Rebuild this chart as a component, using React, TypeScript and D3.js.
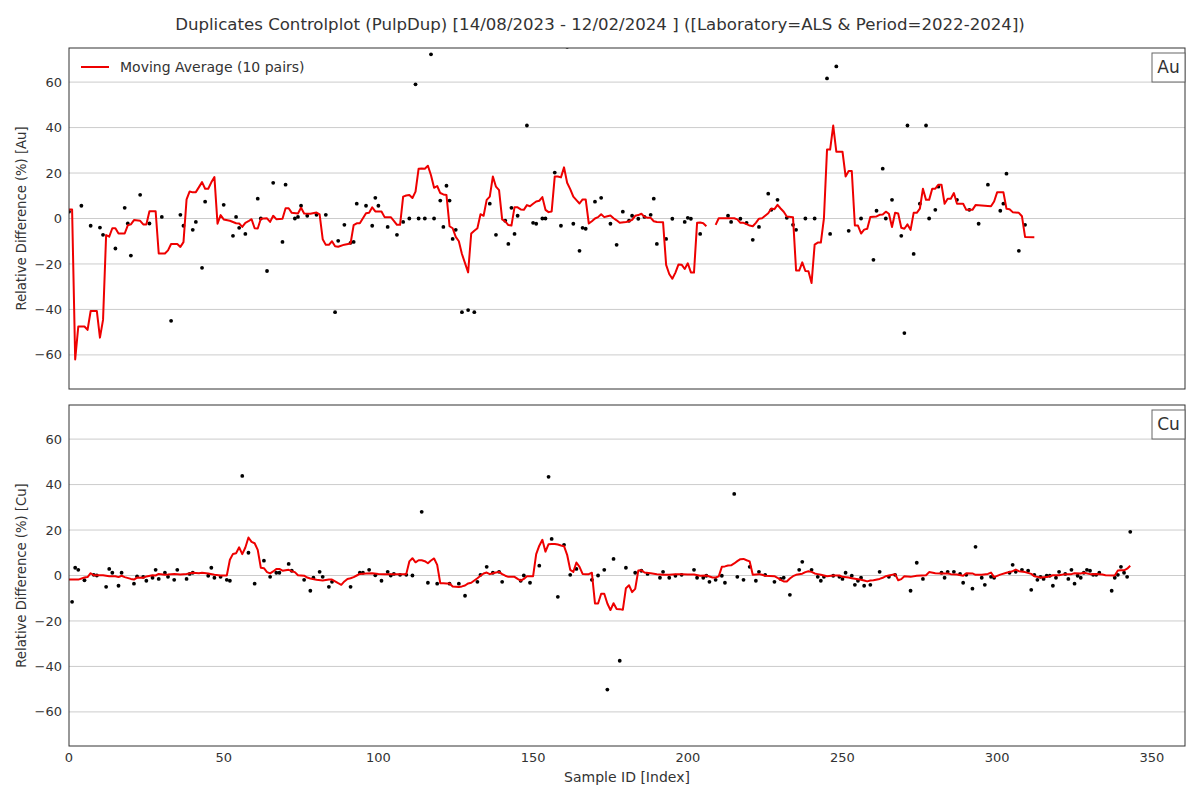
import React from 'react';
import * as d3 from 'd3';

type Pt = [number, number | null];

const TITLE = 'Duplicates Controlplot (PulpDup) [14/08/2023 - 12/02/2024 ] ([Laboratory=ALS & Period=2022-2024])';
const LEGEND_LABEL = 'Moving Average (10 pairs)';
const X_LABEL = 'Sample ID [Index]';
const X_TICKS = [0, 50, 100, 150, 200, 250, 300, 350];
const Y_TICKS = [-60, -40, -20, 0, 20, 40, 60];

// Au: relative difference per sample index
const auPoints: Pt[] = [
  [0, 3], [4, 5.6], [7, -3.2], [10, -4], [11, -7.2], [15, -13.2], [18, 4.7], [19, -2.2], [20, -16.3], [23, 10.4],
  [26, -2.2], [30, 0.7], [33, -45], [36, 1.6], [37, -3.2], [40, -5], [41, -1.5], [43, -21.7], [44, 7.4], [50, 6],
  [53, -7.6], [54, 0.7], [55, -4.1], [57, -6.8], [61, 8.7], [62, 0], [64, -23.1], [66, 15.7], [69, -10.3], [70, 14.9],
  [73, 0], [74, 0.7], [75, 5.6], [77, 1.2], [80, 1.6], [83, 1.6], [86, -41.2], [87, -9.8], [89, -2.8], [91, -10.7],
  [92, -10.3], [93, 6.5], [96, 5.6], [98, -3.2], [99, 9.1], [100, 5.6], [103, -3.7], [106, -7.2], [108, -1.5], [110, 0],
  [112, 59], [113, 0], [115, 0], [117, 72.2], [118, 0], [120, 7.9], [121, -3.7], [122, 14.4], [123, 7.9], [124, -9],
  [125, -5], [127, -41.2], [129, -40.3], [131, -41.2], [136, 6.5], [138, -7.2], [141, -1], [142, -11.2], [143, 4.7], [144, -6.8],
  [145, 1.2], [148, 40.9], [150, -1.9], [151, -2.3], [153, 0], [154, 0], [157, 20.2], [159, -3.2], [161, 75.5], [163, -2.3],
  [165, -14.2], [166, -4.1], [167, -4.5], [170, 7.4], [172, 9.1], [175, -2.3], [177, -11.6], [179, 3], [181, -1], [182, 1.2],
  [184, -0.1], [186, 0.7], [188, 1.6], [189, 8.7], [190, -11.2], [193, -9], [195, -0.1], [199, -1.5], [200, 0.3], [201, -0.1],
  [204, -6.8], [213, 1.2], [214, -1.5], [217, -0.1], [219, -1.9], [221, -9.4], [223, -3.7], [226, 10.9], [227, 3.8], [229, 8.2],
  [232, 0.3], [234, -2.8], [235, -5], [238, 0], [241, 0], [245, 61.6], [246, -6.8], [248, 66.9], [252, -5.4], [256, 0],
  [260, -18.2], [261, 3.4], [263, 21.9], [264, 0], [266, 8.2], [269, -7.6], [270, -50.4], [271, 40.9], [273, -15.6], [275, 6.5],
  [277, 40.9], [278, 0], [280, 3.8], [281, 14], [287, 8.2], [291, 3.8], [294, -2.3], [297, 14.9], [301, 3.4], [302, 6.5],
  [303, 19.7], [307, -14.2], [309, -2.8],
];

// Au moving average (null = gap in the line)
const auMovingAvg: Pt[] = [
  [0, 4], [1, 4], [2, -62], [3, -47.5], [5, -47.5], [6, -49], [7, -40.7], [9, -40.7], [10, -52.4], [11, -44.6],
  [12, -7.3], [13, -8], [14, -4.3], [15, -4.3], [16, -6.6], [18, -6.6], [19, -3], [20, -2.6], [21, -0.7], [23, -1],
  [24, -2.6], [25, -2.6], [26, 3.2], [28, 3.2], [29, -15.4], [31, -15.4], [32, -14], [33, -11.2], [35, -11.2], [36, -12.5],
  [37, -10.4], [38, 8.4], [39, 11.9], [40, 11.5], [41, 11.6], [42, 13.8], [43, 16], [44, 13.1], [45, 13.1], [46, 15.9],
  [47, 18.2], [48, -2.3], [49, 1.5], [50, -0.4], [52, -1], [54, -2.1], [55, -2.2], [56, -3.7], [57, -1.9], [58, -1.2],
  [59, -0.3], [60, -4.3], [61, -4.4], [62, -0.1], [64, 0.1], [65, -1.5], [66, 1.2], [67, -0.3], [69, -0.1], [70, 4.5],
  [71, 4.5], [72, 2.5], [74, 2.2], [75, 4.7], [76, 2.2], [78, 2.1], [80, 2.6], [81, 1.8], [82, -9.1], [83, -11.6],
  [84, -11.6], [85, -10], [86, -12.2], [87, -12.4], [89, -11.5], [91, -11], [92, -2.9], [93, -2.1], [94, -2.1], [95, 0.1],
  [96, 2.3], [97, 2.5], [98, 4.9], [99, 3.1], [101, 3.1], [102, 0.6], [104, 0.6], [105, -1], [106, -2.8], [107, -2.8],
  [108, 9.6], [109, 10.1], [110, 10.3], [111, 9], [112, 11.8], [113, 21.9], [114, 22], [115, 21.9], [116, 23.2], [117, 19],
  [118, 13.5], [119, 14.3], [120, 11.2], [121, 10.6], [122, 10.3], [123, -3.4], [124, -4.3], [125, -8.1], [126, -10], [127, -15.6],
  [129, -23.7], [130, -6.6], [131, -5.4], [132, -4.3], [133, 1.9], [134, 1.2], [135, 8.2], [136, 9.6], [137, 18.5], [138, 14],
  [139, 12.5], [140, -0.4], [141, -1.3], [142, -2.9], [143, -3.1], [144, 5], [145, 4.9], [146, 4], [147, 3.8], [148, 5.9],
  [149, 5.4], [150, 6.5], [151, 7.5], [152, 7.8], [153, 9.4], [154, 3.8], [155, 2.8], [156, 3.1], [157, 18.5], [158, 18.5],
  [159, 18.1], [160, 22.5], [161, 15.7], [162, 12.9], [163, 9.6], [164, 8.1], [165, 6.6], [166, 8.4], [167, 8.4], [168, -2.2],
  [169, -1.2], [170, 0], [171, 0.6], [172, 1.9], [173, 0.6], [174, 1], [175, 1.3], [176, 0.1], [177, -0.8], [178, -1.9],
  [180, -1.5], [181, -1.2], [182, -0.6], [183, 1.2], [184, 1.5], [185, 2.1], [186, 0.7], [187, 0.3], [188, 0.3], [189, -1.2],
  [190, -1.5], [192, -1.6], [193, -20.4], [194, -24.4], [195, -26.5], [196, -23.8], [197, -20.2], [198, -20.3], [199, -22.2], [200, -19.7],
  [201, -23.7], [202, -23.8], [203, -1.9], [204, -1.8], [205, -2.1], [206, -3.4], [207, null], [209, -2.8], [210, 0.1], [213, 0.1],
  [215, 0.1], [216, -0.4], [217, -1.9], [218, -1.9], [219, -2.5], [220, -3.1], [221, -3.4], [222, -1.9], [223, -0.1], [224, 0.1],
  [225, 1.2], [226, 2.3], [227, 4.4], [228, 4.1], [229, 6], [230, 4.4], [231, 3], [232, 0.9], [234, 0.6], [235, -22.9],
  [236, -22.9], [237, -19.3], [238, -23.1], [239, -23.2], [240, -28.4], [241, -11.5], [242, -10.6], [243, -10.6], [244, 0.1], [245, 30.3],
  [246, 30.3], [247, 40.9], [248, 29.4], [250, 29.4], [251, 18.5], [252, 20.9], [253, 20.9], [254, -3.1], [255, -3.1], [256, -6.6],
  [257, -4.9], [258, -4.5], [259, 0.7], [261, 0.9], [262, 1.6], [263, 1.8], [264, 3], [265, 2.1], [266, -3.7], [267, 2.5],
  [268, 2.2], [269, -4.1], [270, -4.5], [271, -2.6], [272, -5], [273, 2.5], [274, 2.5], [275, 4.3], [276, 13.1], [277, 8.2],
  [278, 8.2], [279, 13.1], [280, 13.1], [281, 14.9], [282, 14.9], [283, 6.5], [284, 8.7], [285, 8.7], [286, 11.2], [287, 6.5],
  [289, 6.5], [290, 3.8], [292, 3.8], [293, 5.9], [298, 5.4], [299, 7.5], [300, 11.6], [302, 11.6], [303, 4.3], [304, 4.1],
  [305, 2.8], [307, 2.5], [308, 1], [309, -8.1], [312, -8.2],
];

// Cu: relative difference per sample index
const cuPoints: Pt[] = [
  [1, -11.6], [2, 3.4], [3, 2.5], [5, -2.1], [8, 0.3], [9, 0], [12, -5], [13, 2.9], [14, 1.2], [16, -4.5],
  [17, 1.2], [21, -3.6], [22, -0.4], [24, -0.6], [25, -2.3], [27, -1], [28, 2.5], [29, -1.5], [31, 1.2], [32, -0.6],
  [34, -1.9], [35, 2.5], [38, -1.5], [39, 0.7], [40, 1.2], [45, -0.1], [46, 3.4], [47, -1], [49, -0.6], [51, -1.9],
  [52, -2.3], [56, 43.8], [58, 10], [60, -3.6], [63, 6.5], [65, -0.6], [67, 1.2], [68, 1.2], [71, 5.1], [72, 2.1],
  [76, -1.9], [78, -6.7], [79, -1], [81, 1.6], [82, -0.6], [84, -5], [85, -2.8], [91, -5], [94, 1.2], [95, 1.2],
  [97, 2.5], [99, 0.1], [101, -2.3], [103, 1.6], [104, 0], [105, 0.7], [107, 0.3], [109, 0.3], [111, 0], [114, 28],
  [116, -3.2], [119, -3.6], [123, -3.6], [126, -3.6], [128, -8.9], [132, -2.8], [133, 0.3], [135, 3.8], [137, 1.2], [139, 1.6],
  [140, -2.8], [146, -2.3], [147, 0], [149, -3.2], [152, 4.3], [155, 43.4], [156, 16.1], [158, -9.4], [160, 13.5], [162, 0.3],
  [164, 2.9], [169, -1.9], [171, 0], [173, 2.5], [174, -50.2], [176, 7.3], [178, -37.5], [180, 3.4], [183, 1.2], [185, 2.1],
  [187, 0.7], [191, -1], [192, 1.6], [194, -1], [196, -0.1], [198, 0.3], [202, 2.5], [203, -1], [205, -1], [206, -0.1],
  [207, -2.8], [209, -1.9], [211, -0.1], [212, -3.2], [215, 35.9], [216, -0.6], [218, -1.9], [220, 3.8], [222, -2.3], [223, 1.6],
  [225, 0.3], [228, -2.8], [230, -1.5], [231, -1], [233, -8.5], [236, 2.5], [237, 6], [240, 2.5], [242, -0.6], [243, -2.3],
  [244, -0.6], [247, -0.1], [249, -0.6], [250, -1.5], [251, 1.2], [253, -0.1], [254, -4.1], [255, -2.3], [256, -1], [257, -4.5],
  [259, -4.1], [262, 1.6], [265, -0.6], [267, 0.3], [272, -6.7], [274, 5.6], [276, -1.5], [282, 1.2], [283, -1], [284, 1.6],
  [286, 1.6], [288, 0.7], [289, -3.2], [290, 0.3], [292, -5.8], [293, 12.6], [295, -1], [296, -4.1], [298, -0.6], [299, -1],
  [304, 1.2], [305, 4.7], [306, 1.6], [308, 2.5], [310, 2.1], [311, -6.3], [312, 0.3], [313, -1.9], [314, -0.6], [315, -1.5],
  [316, -0.1], [317, -0.1], [318, -4.5], [319, -1], [320, 1.6], [322, 0.7], [323, -1.5], [324, 2.5], [325, -3.6], [326, -0.1],
  [327, -1], [328, 1.2], [329, 2.5], [330, 2.1], [331, 0.3], [332, 0.3], [333, 1.2], [337, -6.7], [338, -1], [339, 0.3],
  [340, 3.8], [341, 1.2], [342, -0.6], [343, 19.2],
];

// Cu moving average
const cuMovingAvg: Pt[] = [
  [0, -1.8], [3, -1.8], [5, -0.9], [6, -0.7], [7, 1], [8, 0.1], [11, 0.1], [13, -0.3], [15, -0.3], [16, -0.7],
  [17, -0.1], [18, -0.7], [20, -1.5], [21, -1.8], [22, -0.9], [24, -1], [25, -0.4], [27, 0.1], [28, 0], [29, 0.7],
  [31, 0.3], [32, 0.4], [34, 0.7], [36, 0.4], [38, 0.7], [40, 1.2], [42, 1], [43, 1.2], [45, 0.9], [47, 0.3],
  [49, 0], [51, 0], [52, 6.9], [53, 9.5], [54, 9.8], [55, 12.4], [56, 9.4], [57, 12.3], [58, 16.7], [59, 14.8],
  [60, 14.2], [61, 11.3], [62, 3.4], [63, 3.2], [64, 1.5], [65, 0.9], [66, 1.8], [67, 2.9], [68, 2.9], [69, 2.1],
  [70, 2.3], [71, 2.5], [72, 1.9], [73, 1.5], [74, 0.1], [76, -0.1], [77, -0.9], [78, -1.3], [80, -1.9], [82, -2.2],
  [84, -1.8], [85, -1.8], [87, -3.4], [88, -4.1], [89, -2.6], [90, -1.5], [91, -1.2], [92, -0.7], [93, 0], [94, 0.7],
  [96, 0.9], [98, 1], [100, 0.7], [102, 0.6], [109, 0.6], [110, 6.2], [111, 7.6], [112, 5.8], [113, 6.7], [114, 6.7],
  [115, 6.3], [116, 5.4], [117, 6.6], [118, 7.5], [119, 4.7], [120, -3.4], [121, -3.4], [122, -3.5], [123, -3.5], [124, -4.8],
  [126, -5.1], [127, -4.8], [128, -4.4], [129, -3.5], [130, -3.2], [131, -2.2], [132, -1.2], [133, -0.1], [134, 0.9], [135, 1.3],
  [136, 0.6], [137, 1], [138, 1.3], [139, 1.6], [140, 0.6], [141, -0.1], [142, -0.6], [144, -0.6], [145, -1.5], [146, -2.3],
  [147, -1.5], [148, -0.3], [150, -0.3], [151, 9.4], [152, 13.1], [153, 15.7], [154, 10.5], [155, 13.8], [156, 13.9], [157, 13.9],
  [158, 13.6], [159, 13.2], [160, 12.9], [161, 9.1], [162, 2.5], [163, 1.6], [164, 5.7], [165, 3.8], [166, 0.7], [167, 0.6],
  [168, 0.6], [169, 1.2], [170, -12.3], [171, -12.3], [172, -8], [173, -8], [174, -12.3], [175, -15.2], [176, -12.2], [177, -14.7],
  [178, -14.8], [179, -15.1], [180, -5.6], [181, -4.3], [182, -7.3], [183, -5.9], [184, 2.2], [185, 2.3], [186, 1.3], [188, 1],
  [190, 0.6], [192, 0.3], [194, 0.3], [196, 0.6], [198, 0.6], [200, 0.4], [202, 0.4], [204, -0.1], [206, 0], [208, -0.9],
  [209, -0.9], [210, -0.4], [211, 3.8], [212, 4], [213, 4.4], [214, 4.5], [215, 5.3], [216, 6.3], [217, 7.2], [218, 7.3],
  [219, 6.7], [220, 6.2], [221, 0.3], [223, 0.6], [224, 0.3], [225, -0.1], [228, -0.3], [229, -1], [230, -1.9], [231, -2.6],
  [232, -2.6], [233, -1.3], [234, -0.3], [235, 0.3], [237, 0.8], [238, 1.5], [239, 1.9], [240, 1.6], [241, 0.9], [242, 0.6],
  [243, 0.3], [245, -0.3], [247, 0], [249, 0], [250, -0.6], [252, -0.9], [253, -1.2], [255, -1.6], [256, -1.9], [257, -2.2],
  [258, -2.6], [259, -2.2], [260, -2.1], [262, -1.5], [263, -1], [264, -0.3], [265, 0], [267, 0.6], [268, -2.1], [269, -1.6],
  [270, -0.3], [272, -0.6], [274, -0.1], [277, 0.1], [278, 1.5], [280, 1], [282, 0.9], [284, 0.9], [285, 0.6], [287, 0.4],
  [289, -0.1], [290, 1], [292, 0.9], [293, 0.3], [295, 0.3], [297, 0.7], [298, 1.3], [299, -0.7], [301, 0.4], [303, 1.2],
  [304, 1.6], [305, 1.9], [306, 2.6], [307, 1.9], [309, 1.5], [311, 0.7], [312, -0.3], [313, -0.6], [314, -0.9], [316, -0.7],
  [318, 0.1], [320, 0.1], [322, 0.6], [324, 0.6], [325, 1], [327, 0.9], [328, 1.2], [330, 0.6], [332, 0.7], [334, 0.4],
  [335, 0.1], [338, 0], [339, 2.2], [340, 2.3], [341, 2.3], [342, 3], [343, 4.3],
];

const W = 1200;
const H = 800;
const LEFT = 69;
const RIGHT = 1185;
const FONT = 'DejaVu Sans, Liberation Sans, sans-serif';
const TEXT = '#333';

const x = d3.scaleLinear().domain([0, 360.7]).range([LEFT, RIGHT]);
const fmt = (v: number) => (v < 0 ? '\u2212' + Math.abs(v) : String(v));

interface PanelProps {
  id: string;
  top: number;
  bottom: number;
  points: Pt[];
  avg: Pt[];
  element: string;
  legend?: boolean;
  xAxis?: boolean;
}

function Panel({ id, top, bottom, points, avg, element, legend, xAxis }: PanelProps) {
  const y = d3.scaleLinear().domain([-75, 75]).range([bottom, top]);
  const line = d3.line<Pt>()
    .defined(d => d[1] != null)
    .x(d => x(d[0]))
    .y(d => y(d[1] as number));
  const midY = (top + bottom) / 2;

  return (
    <g>
      <defs>
        <clipPath id={id}>
          <rect x={LEFT} y={top} width={RIGHT - LEFT} height={bottom - top} />
        </clipPath>
      </defs>
      <rect x={LEFT} y={top} width={RIGHT - LEFT} height={bottom - top} fill="#fff" />
      {Y_TICKS.map(t => (
        <g key={t}>
          <line x1={LEFT} x2={RIGHT} y1={y(t)} y2={y(t)} stroke="#cccccc" strokeWidth={1} />
          <text x={LEFT - 7} y={y(t)} dy="0.35em" textAnchor="end" fontSize={13} fill={TEXT}>{fmt(t)}</text>
        </g>
      ))}
      <g clipPath={`url(#${id})`}>
        {points.map(d => (
          <circle key={d[0]} cx={x(d[0])} cy={y(d[1] as number)} r={1.9} fill="#000" />
        ))}
        <path d={line(avg) || ''} fill="none" stroke="#ee0000" strokeWidth={2} strokeLinejoin="round" />
      </g>
      <rect x={LEFT} y={top} width={RIGHT - LEFT} height={bottom - top} fill="none" stroke="#333" strokeWidth={1} />
      <text transform={`translate(26,${midY}) rotate(-90)`} textAnchor="middle" fontSize={13.2} fill={TEXT}>
        {`Relative Difference (%) [${element}]`}
      </text>
      <rect x={RIGHT - 33} y={top + 5} width={33} height={29} fill="#fff" stroke="#666" strokeWidth={1} />
      <text x={RIGHT - 16.5} y={top + 19.5} dy="0.35em" textAnchor="middle" fontSize={17} fill={TEXT}>{element}</text>
      {legend && (
        <g>
          <line x1={81} x2={109} y1={top + 19} y2={top + 19} stroke="#ee0000" strokeWidth={2} />
          <text x={120} y={top + 19} dy="0.35em" fontSize={14} fill={TEXT}>{LEGEND_LABEL}</text>
        </g>
      )}
      {xAxis && (
        <g>
          {X_TICKS.map(t => (
            <text key={t} x={x(t)} y={bottom + 16} textAnchor="middle" fontSize={13} fill={TEXT}>{t}</text>
          ))}
          <text x={(LEFT + RIGHT) / 2} y={bottom + 36} textAnchor="middle" fontSize={14} fill={TEXT}>{X_LABEL}</text>
        </g>
      )}
    </g>
  );
}

export default function App() {
  return (
    <svg width={W} height={H} style={{ display: 'block', position: 'absolute', left: 0, top: 0, fontFamily: FONT }}>
      <rect width={W} height={H} fill="#fff" />
      <text x={W / 2} y={24} dy="0.35em" textAnchor="middle" fontSize={16.6} fill={TEXT}>{TITLE}</text>
      <Panel id="clip-au" top={48} bottom={389} points={auPoints} avg={auMovingAvg} element="Au" legend />
      <Panel id="clip-cu" top={405} bottom={746} points={cuPoints} avg={cuMovingAvg} element="Cu" xAxis />
    </svg>
  );
}
